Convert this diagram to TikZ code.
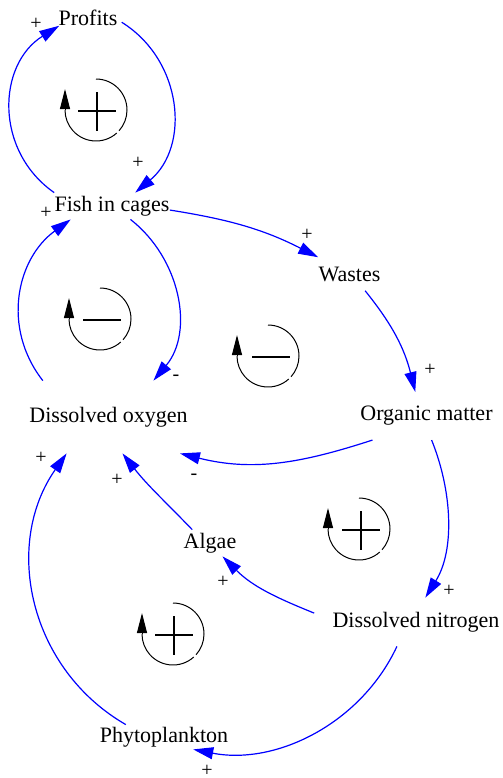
\documentclass[tikz,border=0pt]{standalone}
\usepackage{fontspec}
\setmainfont{Liberation Serif}
\usetikzlibrary{arrows.meta}
\definecolor{linkblue}{HTML}{0000FF}
\newcommand{\varfont}{\fontsize{11}{13}\selectfont}
\newcommand{\polfont}{\fontsize{10}{12}\selectfont}
\tikzset{
  var/.style={font=\varfont, inner sep=0pt},
  pol/.style={font=\polfont, inner sep=0pt},
  link/.style={draw=linkblue, line width=0.6pt, -{Triangle[length=10pt, width=6pt]}},
  loopline/.style={black, line width=0.5pt},
  looptip/.style={black, line width=0.5pt, -{Triangle[length=10pt, width=5pt]}},
  signline/.style={black, line width=1.3pt}
}
% loop marker: broken circle with an arrow on its left side
\newcommand{\loopring}[2]{%
  \draw[loopline] (#1,#2) ++(90:15.5pt) arc[start angle=90, end angle=-42, radius=15.5pt];
  \draw[loopline] (#1,#2) ++(-48:15.5pt) arc[start angle=-48, end angle=-180, radius=15.5pt];
  \draw[looptip] (#1,#2) ++(-15.5pt,0) -- ++(0,21);
}
\newcommand{\plusmark}[2]{\draw[signline] (#1-19,#2) -- (#1+19,#2) (#1,#2+19) -- (#1,#2-20);}
\newcommand{\minusmark}[2]{\draw[signline] (#1-18,#2) -- (#1+20,#2);}

\begin{document}
\begin{tikzpicture}[x=0.5pt, y=0.5pt]
  \useasboundingbox (0,0) rectangle (503,-778);

  % variables
  \node[var, inner xsep=2pt] (pr) at (88,-17.5) {Profits};
  \node[var, inner ysep=1.5pt] (fish) at (112,-206) {Fish in cages};
  \node[var, inner ysep=4.5pt] (ws) at (349.5,-274) {Wastes};
  \node[var, inner ysep=13pt] (do) at (108.5,-417) {Dissolved oxygen};
  \node[var, inner ysep=7pt] (om) at (426.5,-416) {Organic matter};
  \node[var, inner ysep=1.5pt] (al) at (210,-543) {Algae};
  \node[var, inner xsep=9pt, inner ysep=7pt] (dn) at (416,-622) {Dissolved nitrogen};
  \node[var, inner ysep=1pt] (ph) at (164,-737) {Phytoplankton};

  % causal links
  \draw[link] (fish.north west) to[out=145, in=212, looseness=1.12] (pr.-164);
  \draw[link] (pr.-8) to[out=-32, in=40, looseness=1.08] (fish.30);
  \draw[link] (fish.-4) to[out=-9, in=153] (ws.north west);
  \draw[link] (ws.-47) to[out=-51, in=104] (om.115);
  \draw[link] (fish.-36) to[out=-38, in=50] (do.39);
  \draw[link] (do.151) to[out=128, in=216, looseness=1.05] (fish.-162);
  \draw[link] (om.-156) to[out=198, in=-14] (do.-27);
  \draw[link] (om.-78) to[out=-68, in=58, looseness=0.9] (dn.69);
  \draw[link] (al.143) to[out=134, in=-52] (do.-69);
  \draw[link] (dn.175) to[out=158, in=-45] (al.-47);
  \draw[link] (dn.-128) to[out=245, in=-11, looseness=0.95] (ph.-23);
  \draw[link] (ph.162) to[out=150, in=235, looseness=1.03] (do.-139);

  % polarities
  \node[pol] (s1) at (36,-24) {+};
  \node[pol] (s2) at (138,-163) {+};
  \node[pol] (s3) at (307,-235) {+};
  \node[pol] (s4) at (430,-370) {+};
  \node[pol] (s5) at (176,-378) {-};
  \node[pol] (s6) at (46,-213) {+};
  \node[pol] (s7) at (194,-477) {-};
  \node[pol] (s8) at (449,-591) {+};
  \node[pol] (s9) at (117,-480) {+};
  \node[pol] (s10) at (223,-582) {+};
  \node[pol] (s11) at (207,-771) {+};
  \node[pol] (s12) at (41,-458) {+};

  % loop markers
  \loopring{96}{-110}  \plusmark{97}{-111}
  \loopring{100}{-319} \minusmark{101}{-320}
  \loopring{268}{-356} \minusmark{270}{-357}
  \loopring{359}{-529} \plusmark{361}{-530}
  \loopring{173}{-634} \plusmark{174}{-635}
\end{tikzpicture}
\end{document}
